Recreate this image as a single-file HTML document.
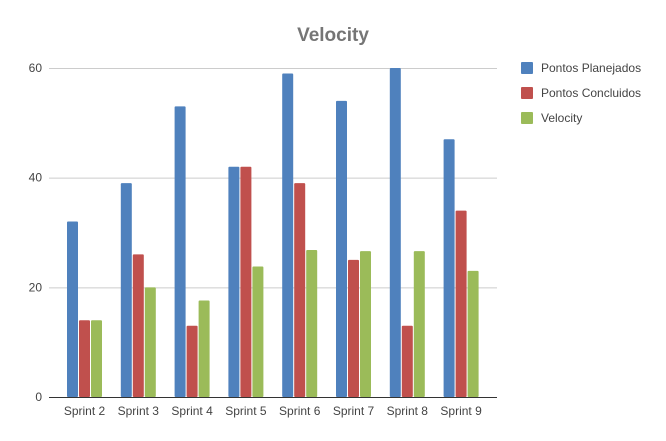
<!DOCTYPE html>
<html><head><meta charset="utf-8"><style>
body{margin:0;background:#fff;font-family:"Liberation Sans",sans-serif}
</style></head><body>
<svg width="666" height="441" style="display:block">
<rect width="666" height="441" fill="#fff"/>
<text x="333" y="41" text-anchor="middle" font-size="19" font-weight="bold" fill="#757575">Velocity</text>
<g id="grid"></g><g id="bars"></g><g id="labels"></g>
<g id="legend"></g>
</svg>
<script>
const categories=["Sprint 2","Sprint 3","Sprint 4","Sprint 5","Sprint 6","Sprint 7","Sprint 8","Sprint 9"];
const planned=[32,39,53,42,59,54,60,47];
const done=[14,26,13,42,39,25,13,34];
const velocity=[14,20,17.6,23.8,26.8,26.6,26.6,23];
const ticks=[0,20,40,60];
const seriesNames=["Pontos Planejados","Pontos Concluidos","Velocity"];
const colors=["#4f81bd","#c0504d","#9bbb59"];
const NS="http://www.w3.org/2000/svg";
function mk(t,a,p){const e=document.createElementNS(NS,t);for(const k in a)e.setAttribute(k,a[k]);p.appendChild(e);return e;}
const y0=397,y60=68;
function y(v){return y0-(v/60)*(y0-y60);}
function cx(i){return 84.5+i*53.8;}
const grid=document.getElementById('grid');
ticks.forEach(t=>{
  const l=mk('line',{x1:49,x2:497,y1:y(t)+0.5,y2:y(t)+0.5,stroke:t===0?'#333':'#ccc','stroke-width':1},grid);
  
  
  const tx=mk('text',{x:42,y:y(t)+4,'text-anchor':'end','font-size':12,fill:'#444'},grid);
  tx.textContent=t;
  
  
});
const bars=document.getElementById('bars');
[planned,done,velocity].forEach((s,k)=>{
  s.forEach((v,i)=>{
    const x=cx(i)-17.5+k*12;
    const r=mk('rect',{x:x,y:y(v),width:11,height:y0-y(v),fill:colors[k],rx:1},bars);
    
    
  });
});
const lab=document.getElementById('labels');
categories.forEach((c,i)=>{
  const t=mk('text',{x:cx(i),y:415,'text-anchor':'middle','font-size':12,fill:'#444'},lab);
  t.textContent=c;
  
  
});
const lg=document.getElementById('legend');
seriesNames.forEach((n,k)=>{
  const yy=68+k*25;
  const r=mk('rect',{x:521,y:yy-6,width:12,height:12,fill:colors[k],rx:1},lg);
  
  
  const t=mk('text',{x:541,y:yy+4,'font-size':12,fill:'#444'},lg);
  t.textContent=n;
  
  
});
</script>
</body></html>
